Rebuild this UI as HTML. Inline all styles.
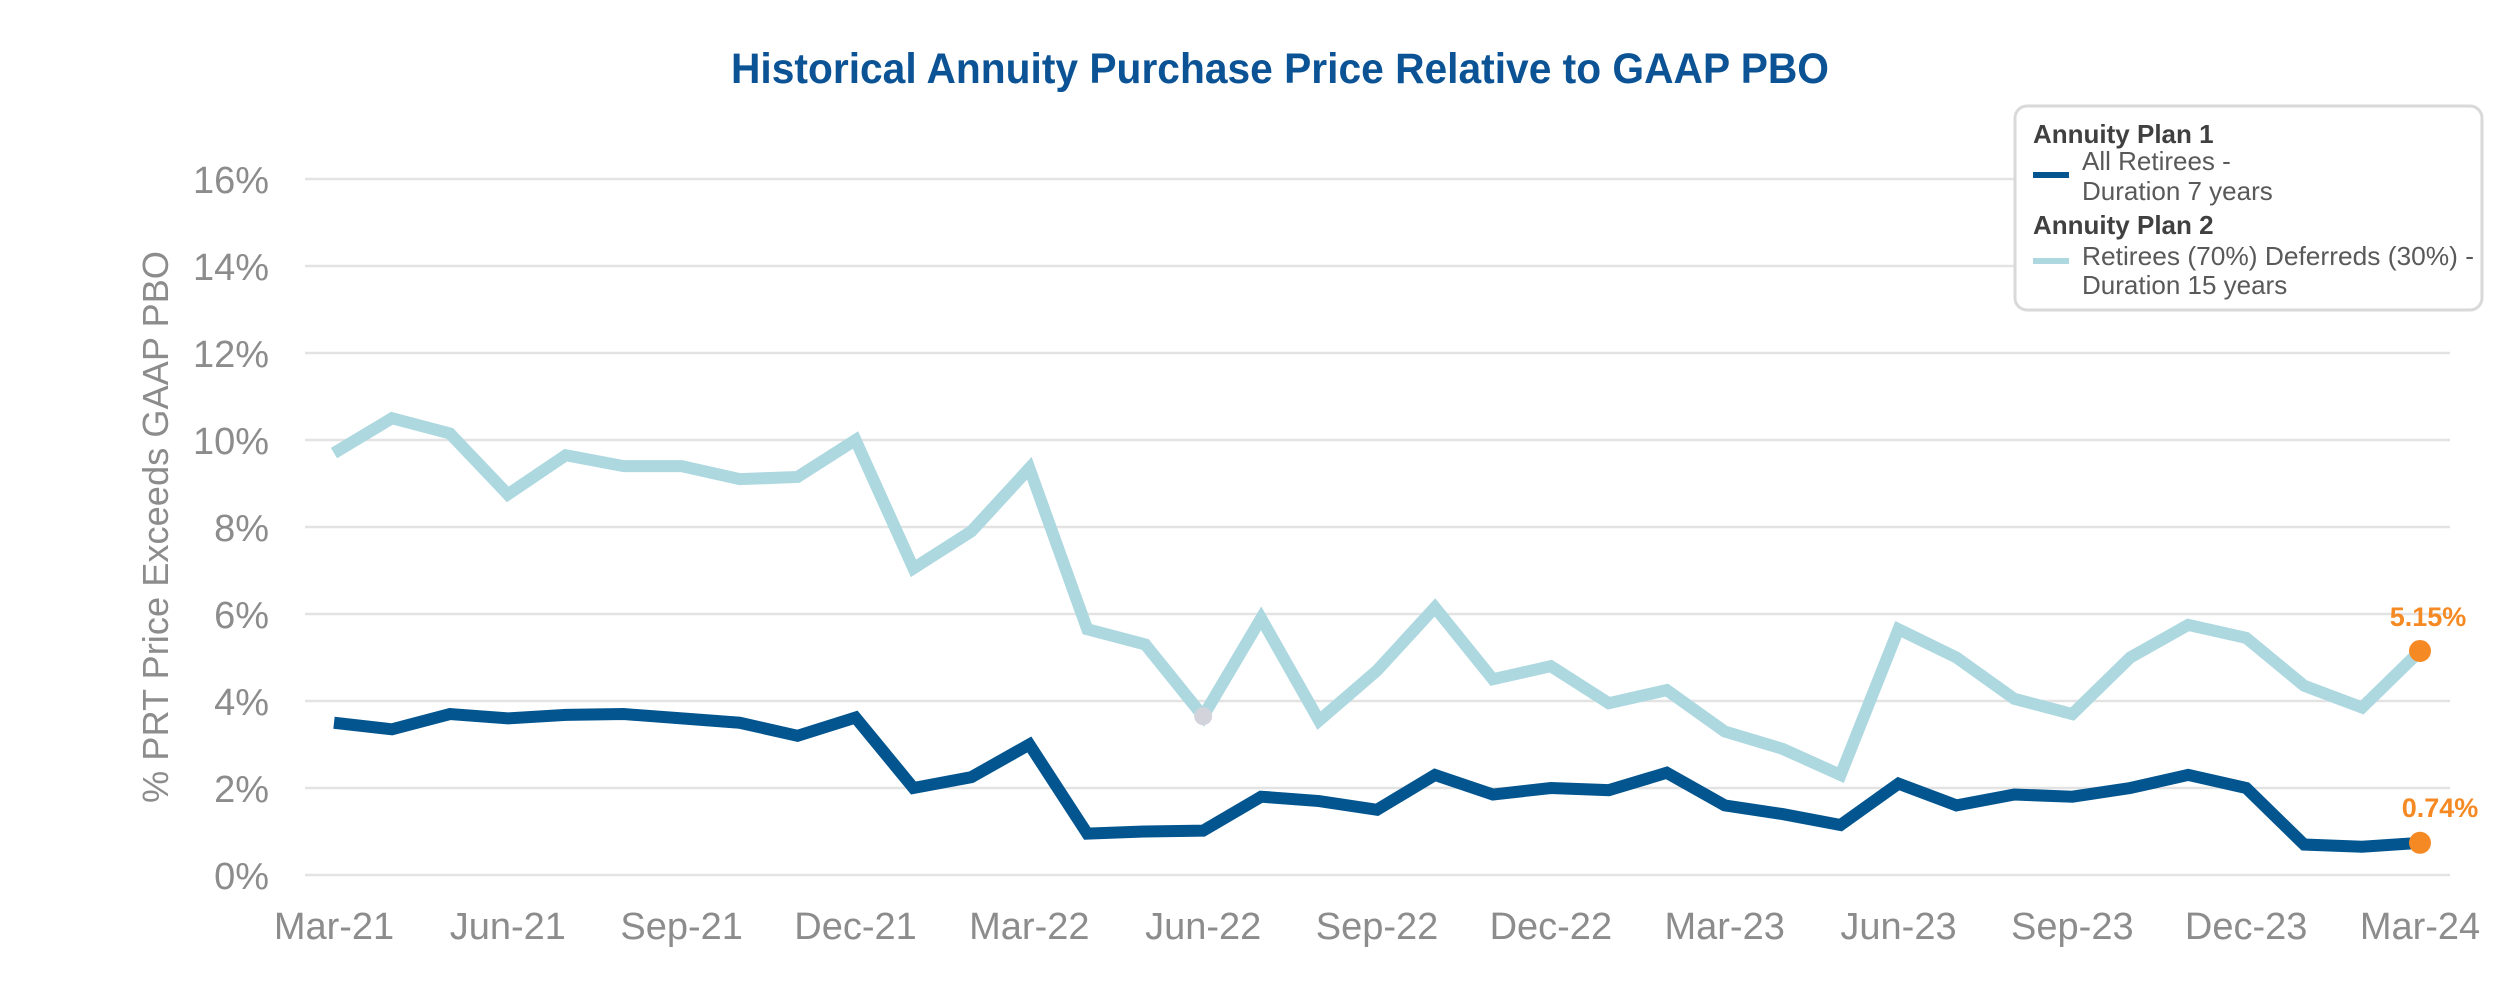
<!DOCTYPE html>
<html><head><meta charset="utf-8"><style>
html,body{margin:0;padding:0;background:#fff;}
svg{display:block;}
text{font-family:"Liberation Sans",sans-serif;}
</style></head><body>
<svg id="chart" width="2497" height="1008" viewBox="0 0 2497 1008">
<text x="1280" y="83" text-anchor="middle" font-size="43" font-weight="bold" fill="#0b5394" textLength="1098" lengthAdjust="spacingAndGlyphs">Historical Annuity Purchase Price Relative to GAAP PBO</text>
<g id="grid"></g>
<g id="yticks"></g>
<g id="xticks"></g>
<text transform="translate(168,527) rotate(-90)" text-anchor="middle" font-size="36" fill="#8c8c8c" textLength="552" lengthAdjust="spacingAndGlyphs">% PRT Price Exceeds GAAP PBO</text>
<g id="series"></g>
<g>
<rect x="2015" y="106" width="467" height="204" rx="12" fill="#fff" stroke="#d9d9d9" stroke-width="3"/>
<text x="2033" y="143" font-size="26" font-weight="bold" fill="#404040">Annuity Plan 1</text>
<line x1="2033" y1="175" x2="2069" y2="175" stroke="#02558f" stroke-width="6"/>
<text x="2082" y="170" font-size="26" fill="#595959">All Retirees -</text>
<text x="2082" y="200" font-size="26" fill="#595959">Duration 7 years</text>
<text x="2033" y="234" font-size="26" font-weight="bold" fill="#404040">Annuity Plan 2</text>
<line x1="2033" y1="261" x2="2069" y2="261" stroke="#add8e0" stroke-width="6"/>
<text x="2082" y="265" font-size="26" fill="#595959" textLength="392" lengthAdjust="spacingAndGlyphs">Retirees (70%) Deferreds (30%) -</text>
<text x="2082" y="294" font-size="26" fill="#595959">Duration 15 years</text>
</g>
</svg>
<script>
const xLabels = ["Mar-21","Jun-21","Sep-21","Dec-21","Mar-22","Jun-22","Sep-22","Dec-22","Mar-23","Jun-23","Sep-23","Dec-23","Mar-24"];
const yTicks = [0,2,4,6,8,10,12,14,16];
const plan1 = [3.5,3.35,3.7,3.6,3.68,3.7,3.6,3.5,3.2,3.62,2.0,2.25,3.0,0.95,1.0,1.02,1.8,1.7,1.5,2.3,1.85,2.0,1.95,2.35,1.6,1.4,1.15,2.1,1.6,1.85,1.8,2.0,2.3,2.0,0.7,0.65,0.74];
const plan2 = [9.7,10.5,10.15,8.75,9.65,9.4,9.4,9.1,9.15,10.0,7.05,7.9,9.35,5.65,5.3,3.65,5.9,3.55,4.7,6.15,4.5,4.8,3.95,4.25,3.3,2.9,2.3,5.65,5.0,4.05,3.7,5.0,5.75,5.45,4.35,3.85,5.15];
const endLabels = ["0.74%","5.15%"];

const NS="http://www.w3.org/2000/svg";
const x0=334, x1=2420, yZero=875, yTop=179;
const n=plan1.length;
function xs(i){return x0+(x1-x0)*i/(n-1);}
function ys(v){return yZero-(yZero-yTop)*v/16;}
function mk(tag,attrs,parent){const e=document.createElementNS(NS,tag);for(const k in attrs)e.setAttribute(k,attrs[k]);parent.appendChild(e);return e;}
const grid=document.getElementById('grid'), yt=document.getElementById('yticks'), xt=document.getElementById('xticks'), ser=document.getElementById('series');
yTicks.forEach(v=>{
  const l=mk('line',{x1:305,x2:2450,y1:ys(v),y2:ys(v),stroke:'#e3e3e3','stroke-width':2.5},grid);
  
  
  const t=mk('text',{x:269,y:ys(v)+14,'text-anchor':'end','font-size':38,fill:'#8c8c8c'},yt);
  t.textContent=v+'%';
  
  
});
xLabels.forEach((s,i)=>{
  const t=mk('text',{x:xs(i*3),y:939,'text-anchor':'middle','font-size':38,fill:'#8c8c8c'},xt);
  t.textContent=s;
  
  
});
function line(data,color,name){
  const p=mk('polyline',{points:data.map((v,i)=>xs(i)+','+ys(v)).join(' '),fill:'none',stroke:color,'stroke-width':12,'stroke-linejoin':'miter','stroke-miterlimit':3},ser);
  
  
}
line(plan2,'#add8e0','plan-2-line');
line(plan1,'#02558f','plan-1-line');
const g=mk('circle',{cx:xs(15),cy:ys(plan2[15]),r:9,fill:'#d3d3db'},ser);


const m1=mk('circle',{cx:xs(n-1),cy:ys(plan1[n-1]),r:11,fill:'#f58a24'},ser);


const m2=mk('circle',{cx:xs(n-1),cy:ys(plan2[n-1]),r:11,fill:'#f58a24'},ser);


const l1=mk('text',{x:xs(n-1)+20,y:ys(plan1[n-1])-26,'text-anchor':'middle','font-size':27,'font-weight':'bold',fill:'#f58a24'},ser);
l1.textContent=endLabels[0];


const l2=mk('text',{x:xs(n-1)+8,y:ys(plan2[n-1])-25,'text-anchor':'middle','font-size':27,'font-weight':'bold',fill:'#f58a24'},ser);
l2.textContent=endLabels[1];


</script>
</body></html>
